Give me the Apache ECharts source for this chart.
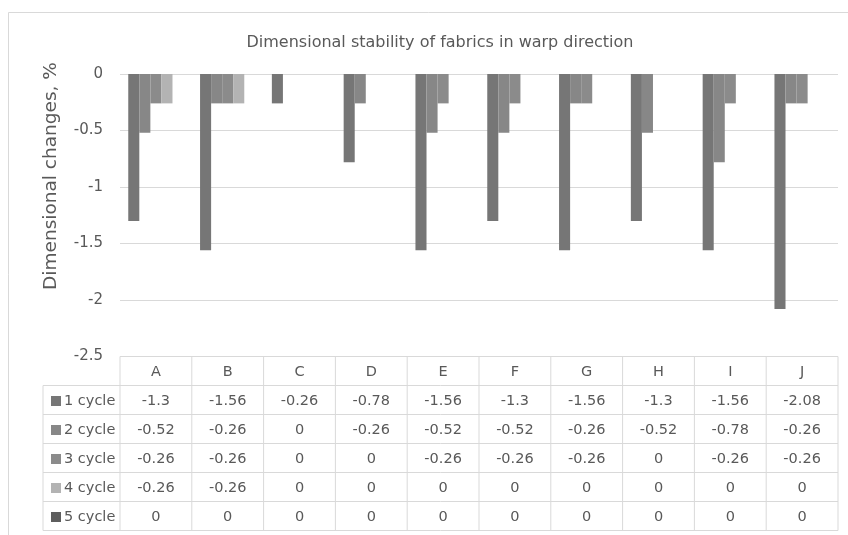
<!DOCTYPE html>
<html><head><meta charset="utf-8">
<script src="https://cdn.jsdelivr.net/npm/echarts@6/dist/echarts.min.js"></script>
<style>html,body{margin:0;padding:0;background:#fff}#c{width:848px;height:535px}</style>
</head><body><div id="c"></div>
<script>
const categories = ['A','B','C','D','E','F','G','H','I','J'];
const seriesNames = ['1 cycle','2 cycle','3 cycle','4 cycle','5 cycle'];
const cycle1 = [-1.3,-1.56,-0.26,-0.78,-1.56,-1.3,-1.56,-1.3,-1.56,-2.08];
const cycle2 = [-0.52,-0.26,0,-0.26,-0.52,-0.52,-0.26,-0.52,-0.78,-0.26];
const cycle3 = [-0.26,-0.26,0,0,-0.26,-0.26,-0.26,0,-0.26,-0.26];
const cycle4 = [-0.26,-0.26,0,0,0,0,0,0,0,0];
const cycle5 = [0,0,0,0,0,0,0,0,0,0];
const yTicks = [0,-0.5,-1,-1.5,-2,-2.5];
const titleText = 'Dimensional stability of fabrics in warp direction';
const yAxisTitle = 'Dimensional changes, %';
const colors = ['#767676','#878787','#8b8b8b','#b3b3b3','#5e5e5e'];
const allData = [cycle1,cycle2,cycle3,cycle4,cycle5];

(function(){
const font = '"DejaVu Sans", sans-serif';
const textColor = '#595959';
const lineColor = '#d9d9d9';

const chart = echarts.init(document.getElementById('c'), null, {renderer:'canvas'});
const option = {
  animation:false,
  backgroundColor:'#fff',
  title:{text:titleText, left:435, top:30, textAlign:'center',
    textStyle:{fontFamily:font, fontSize:16, fontWeight:'normal', color:textColor}},
  grid:{left:120, right:10, top:74, bottom:178.5},
  xAxis:{type:'category', data:categories, axisLine:{show:false}, axisTick:{show:false}, axisLabel:{show:false}},
  yAxis:{type:'value', min:yTicks[yTicks.length-1], max:yTicks[0], interval:0.5,
    axisLabel:{fontFamily:font, fontSize:15, color:textColor, margin:17, formatter:v=>String(v)},
    splitLine:{lineStyle:{color:lineColor, width:1}}, axisLine:{show:false}, axisTick:{show:false}},
  series: allData.map((d,i)=>({type:'bar', name:seriesNames[i], data:d, barGap:'0%', barCategoryGap:'23%',
    itemStyle:{color:colors[i]}}))
};
chart.setOption(option);

const cx = categories.map((c,i)=>chart.convertToPixel({xAxisIndex:0}, i));
const bw = cx[1]-cx[0];
const tTop = chart.convertToPixel({yAxisIndex:0}, -2.5);
const rowH = 29;
const tLeft = cx[0]-bw/2, tRight = cx[cx.length-1]+bw/2;
const legL = 43;
const els = [];
const line = (x1,y1,x2,y2)=>els.push({type:'line', shape:{x1,y1,x2,y2}, style:{stroke:lineColor, lineWidth:1}, z:10});
const nRows = seriesNames.length;
const tBottom = tTop + rowH*(nRows+1);
line(tLeft, tTop, tRight, tTop);
for(let r=1;r<=nRows+1;r++) line(legL, tTop+rowH*r, tRight, tTop+rowH*r);
line(legL, tTop+rowH, legL, tBottom);
for(let i=0;i<=categories.length;i++) line(tLeft+bw*i, tTop, tLeft+bw*i, tBottom);
categories.forEach((c,i)=>els.push({type:'text', style:{text:c, x:cx[i], y:tTop+rowH/2+1, align:'center', verticalAlign:'middle', font:'14.5px '+font, fill:textColor}, z:11}));
seriesNames.forEach((n,r)=>{
  const yc = tTop+rowH*(r+1)+rowH/2+1;
  els.push({type:'rect', shape:{x:51, y:yc-5, width:10, height:10}, style:{fill:colors[r]}, z:11});
  els.push({type:'text', style:{text:n, x:64, y:yc, align:'left', verticalAlign:'middle', font:'14.5px '+font, fill:textColor}, z:11});
  allData[r].forEach((v,i)=>els.push({type:'text', style:{text:String(v), x:cx[i], y:yc, align:'center', verticalAlign:'middle', font:'14.5px '+font, fill:textColor}, z:11}));
});
// y-axis title
els.push({type:'text', x:51.5, y:176, rotation:Math.PI/2, style:{text:yAxisTitle, x:0, y:0, align:'center', verticalAlign:'middle', font:'18.5px '+font, fill:textColor}, z:11});
els.push({type:'rect', shape:{x:8.5, y:12.5, width:860, height:600}, style:{fill:null, stroke:lineColor, lineWidth:1}, z:0});
chart.setOption({graphic:els});
})();
</script></body></html>
